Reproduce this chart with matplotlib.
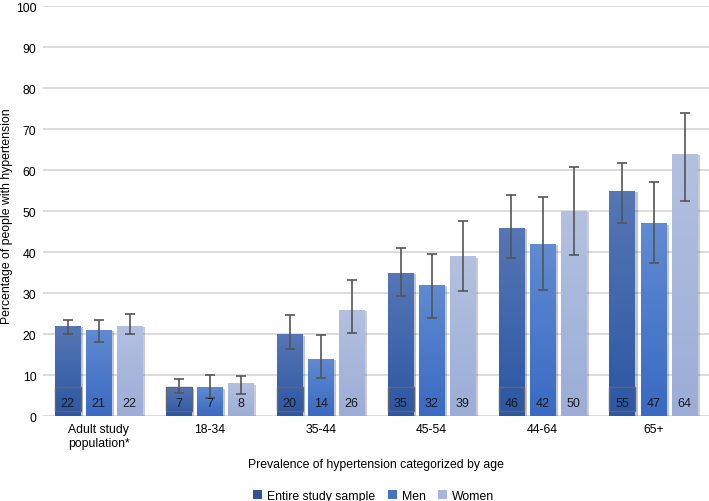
import numpy as np
import matplotlib
matplotlib.use("Agg")
import matplotlib.pyplot as plt
from matplotlib.colors import LinearSegmentedColormap
from matplotlib.patches import Rectangle, Patch
import matplotlib.patheffects as pe

plt.rcParams['font.family'] = ['Liberation Sans', 'DejaVu Sans']

categories = ["Adult study\npopulation*", "18-34", "35-44", "45-54", "44-64", "65+"]
series = ["Entire study sample", "Men", "Women"]

entire = [22, 7, 20, 35, 46, 55]
men = [21, 7, 14, 32, 42, 47]
women = [22, 8, 26, 39, 50, 64]

# confidence intervals (lower, upper)
entire_lo = [20, 5.6, 16.3, 29.4, 38.5, 47.1]
entire_hi = [23.5, 9, 24.6, 41, 54, 61.8]
men_lo = [18, 4.5, 9.3, 24, 30.8, 37.4]
men_hi = [23.5, 10, 19.8, 39.6, 53.5, 57.1]
women_lo = [20, 5.4, 20.3, 30.6, 39.4, 52.5]
women_hi = [25, 9.8, 33.2, 47.5, 60.7, 74]

values = [entire, men, women]
lows = [entire_lo, men_lo, women_lo]
highs = [entire_hi, men_hi, women_hi]
# (top, bottom) gradient colours
grads = [("#5676B5", "#2C57A4"), ("#608BD2", "#3A6AC2"), ("#B3C0E0", "#9CADD7")]
legend_colors = ["#2F5597", "#4472C4", "#A5B4DC"]

fig = plt.figure(figsize=(7.09, 5.02), dpi=100)
ax = fig.add_axes([0.061, 0.169, 0.939, 0.817])

x = np.arange(len(categories))
width = 0.234
offsets = [-0.28, 0, 0.28]

for i, name in enumerate(series):
    vals = np.array(values[i])
    bars = ax.bar(x + offsets[i], vals, width, color=legend_colors[i], label=name,
                  zorder=2, linewidth=0)
    cmap = LinearSegmentedColormap.from_list("g%d" % i, [grads[i][1], grads[i][0]])
    for b in bars:
        b.set_path_effects([pe.SimplePatchShadow(offset=(1.5, -1.0), alpha=0.25), pe.Normal()])
        x0 = b.get_x()
        im = ax.imshow(np.linspace(0, 1, 50).reshape(-1, 1), extent=[x0, x0 + b.get_width(), 0, b.get_height()],
                       aspect='auto', cmap=cmap, origin='lower', zorder=2.5)
        im.set_clip_path(b)
    err = np.array([vals - np.array(lows[i]), np.array(highs[i]) - vals])
    ax.errorbar(x + offsets[i], vals, yerr=err, fmt='none', ecolor="#555555",
                elinewidth=1.2, capsize=3.5, capthick=1.2, zorder=4)
    for b, v in zip(bars, vals):
        cx = b.get_x() + b.get_width() / 2
        ax.text(cx, 3.3, str(v), ha='center', va='center', fontsize=9, color="#1a1a1a", zorder=5)
        if i == 0:
            ax.add_patch(Rectangle((b.get_x(), 1.2), b.get_width(), 5.8, fill=False,
                                   edgecolor="#666666", linewidth=1.0, zorder=4.5))

ax.set_xlim(-0.5, len(categories) - 0.5)
ax.set_ylim(0, 100)
ax.set_yticks(range(0, 101, 10))
ax.set_xticks(x)
ax.set_xticklabels(categories, fontsize=8.8)
ax.tick_params(axis='y', labelsize=8.8, length=0, pad=5)
ax.tick_params(axis='x', length=0, pad=5)
ax.grid(axis='y', color="#d9d9d9", linewidth=1.3, zorder=0)
ax.set_axisbelow(True)
for s in ax.spines.values():
    s.set_visible(False)

ax.set_ylabel("Percentage of people with hypertension", fontsize=8.8)
ax.yaxis.set_label_coords(-0.046, 0.49)
ax.set_xlabel("Prevalence of hypertension categorized by age", fontsize=8.8, labelpad=6.5)

handles = [Patch(facecolor=c, edgecolor='none') for c in legend_colors]
fig.legend(handles=handles, labels=series, loc='lower center', bbox_to_anchor=(0.527, -0.024),
           ncol=3, frameon=False, fontsize=8.8, handlelength=0.75, handleheight=0.75,
           handletextpad=0.4, columnspacing=1.0)

fig.savefig("out.png", dpi=100)
